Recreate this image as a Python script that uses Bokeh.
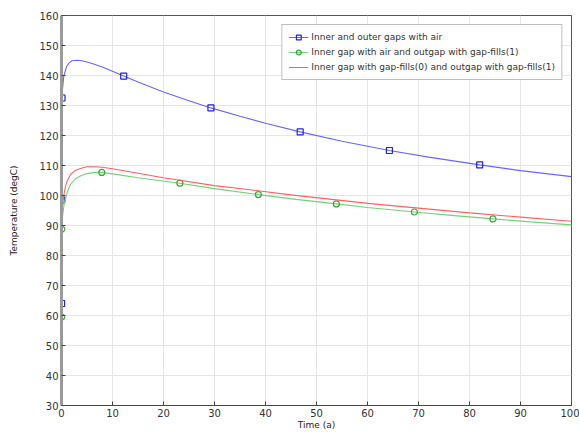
from bokeh.plotting import figure
from bokeh.models import Legend, LegendItem, Range1d, FixedTicker
from bokeh.embed import file_html
from bokeh.resources import INLINE

# Series 1: Inner and outer gaps with air
t_air = [0, 0.02, 0.05, 0.1, 0.2, 0.45, 1, 1.5, 2, 3, 4, 5, 6, 8, 10, 12.2, 15, 20, 25, 29.3, 35, 40, 46.8, 55, 64.3, 72, 82, 90, 100]
T_air = [20, 64, 98.5, 132.5, 135.5, 139.8, 143, 144.2, 144.9, 145.1, 144.9, 144.5, 144.0, 142.8, 141.4, 139.8, 137.8, 134.5, 131.6, 129.2, 126.4, 124.1, 121.2, 118.1, 115, 112.8, 110.2, 108.3, 106.3]
mk_air_t = [0.02, 0.05, 0.1, 12.2, 29.3, 46.8, 64.3, 82]
mk_air_T = [64, 98.5, 132.5, 139.8, 129.2, 121.2, 115, 110.2]

# Series 2: Inner gap with air and outgap with gap-fills(1)
t_g1 = [0, 0.02, 0.05, 0.2, 0.5, 0.8, 1.2, 1.8, 2.7, 3.7, 5, 6.5, 7.9, 10, 15, 23.2, 30, 38.6, 46, 53.9, 60, 69.2, 77, 84.6, 92, 100]
T_g1 = [20, 59.5, 88.8, 93, 97, 99, 101.5, 103.8, 105.5, 106.5, 107.3, 107.7, 107.7, 107.2, 105.9, 104.1, 102.3, 100.3, 98.7, 97.2, 96, 94.5, 93.3, 92.2, 91.2, 90.2]
mk_g1_t = [0.02, 0.05, 7.9, 23.2, 38.6, 53.9, 69.2, 84.6]
mk_g1_T = [59.5, 88.8, 107.7, 104.1, 100.3, 97.2, 94.5, 92.2]

# Series 3: Inner gap with gap-fills(0) and outgap with gap-fills(1)
t_g0 = [0, 0.02, 0.05, 0.2, 0.5, 0.8, 1.2, 1.8, 2.7, 3.7, 5, 6.5, 8, 10, 15, 20, 30, 37, 45, 53, 60.6, 70, 80, 90, 100]
T_g0 = [20, 62, 92, 96.5, 100.5, 103.2, 105.2, 107.1, 108.3, 109, 109.6, 109.6, 109.4, 108.9, 107.4, 105.9, 103.3, 101.9, 100.2, 98.7, 97.3, 95.8, 94.2, 92.8, 91.4]

labels = ["Inner and outer gaps with air",
          "Inner gap with air and outgap with gap-fills(1)",
          "Inner gap with gap-fills(0) and outgap with gap-fills(1)"]

x_ticks = list(range(0, 101, 10))
y_ticks = list(range(30, 161, 10))

FONT = "DejaVu Sans"
TXT = "#333333"

p = figure(width=579, height=432, output_backend="svg", toolbar_location=None,
           x_range=Range1d(0, 100), y_range=Range1d(30, 160),
           min_border_left=61, min_border_top=15, min_border_right=8, min_border_bottom=24,
           x_axis_label="Time (a)", y_axis_label="Temperature (degC)")

p.background_fill_color = "white"
p.border_fill_color = "white"
p.outline_line_color = "#555555"
p.outline_line_width = 1

p.xaxis.ticker = FixedTicker(ticks=x_ticks)
p.yaxis.ticker = FixedTicker(ticks=y_ticks)
p.xgrid.ticker = FixedTicker(ticks=x_ticks)
p.ygrid.ticker = FixedTicker(ticks=y_ticks)
p.grid.grid_line_color = "#e6e6e6"
p.grid.grid_line_width = 1

for ax in (p.xaxis[0], p.yaxis[0]):
    ax.minor_tick_line_color = None
    ax.major_tick_in = 4
    ax.major_tick_out = 0
    ax.major_tick_line_color = "#444444"
    ax.major_label_text_font = FONT
    ax.major_label_text_font_size = "10px"
    ax.major_label_text_color = TXT
    ax.axis_label_text_font = FONT
    ax.axis_label_text_font_size = "9px"
    ax.axis_label_text_font_style = "normal"
    ax.axis_label_text_color = "#222222"
    ax.major_label_standoff = 3
    ax.axis_label_standoff = 0

p.xaxis.major_label_standoff = 3
p.xaxis.axis_line_color = "#444444"
p.yaxis.axis_line_color = "#9a9a9a"
p.yaxis.axis_line_width = 3
p.yaxis.axis_label_standoff = 17

c_air_line, c_air_mk = "#6666ff", "#2020e8"
c_g1_line, c_g1_mk = "#77d077", "#38aa38"
c_g0_line = "#ff6060"

l1 = p.line(t_air, T_air, line_color=c_air_line, line_width=1.1)
m1 = p.scatter(mk_air_t, mk_air_T, marker="square", size=6, fill_color=None,
               line_color=c_air_mk, line_width=1.2)
l2 = p.line(t_g1, T_g1, line_color=c_g1_line, line_width=1.1)
m2 = p.scatter(mk_g1_t, mk_g1_T, marker="circle", size=6, fill_color=None,
               line_color=c_g1_mk, line_width=1.2)
l3 = p.line(t_g0, T_g0, line_color=c_g0_line, line_width=1.1)

legend = Legend(items=[LegendItem(label=labels[0], renderers=[l1, m1]),
                       LegendItem(label=labels[1], renderers=[l2, m2]),
                       LegendItem(label=labels[2], renderers=[l3])],
                location="top_right")
legend.margin = 9
legend.padding = 6
legend.spacing = 3
legend.glyph_width = 20
legend.glyph_height = 12
legend.label_height = 12
legend.label_standoff = 3
legend.label_text_font = FONT
legend.label_text_font_size = "9px"
legend.label_text_color = TXT
legend.border_line_color = "#808080"
legend.border_line_width = 1
legend.background_fill_color = "white"
legend.background_fill_alpha = 1
p.add_layout(legend, "center")

open("out.html", "w").write(file_html(p, INLINE))
